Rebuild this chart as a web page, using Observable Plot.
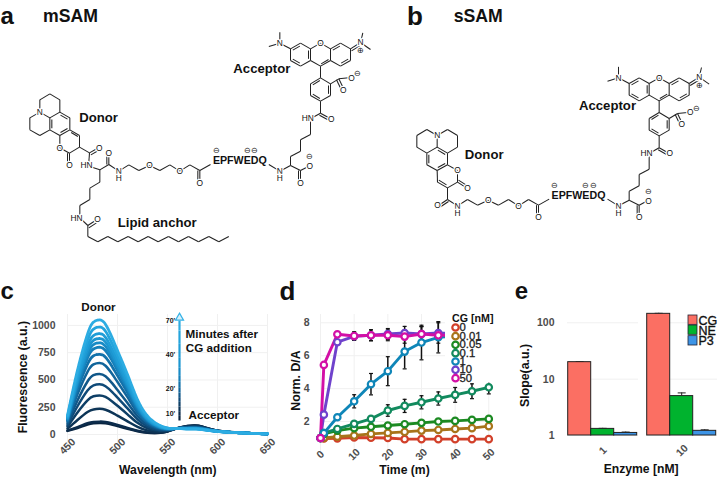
<!DOCTYPE html>
<html>
<head>
<meta charset="utf-8">
<script src="https://cdn.jsdelivr.net/npm/d3@7"></script>
<script src="https://cdn.jsdelivr.net/npm/@observablehq/plot@0.6"></script>
<style>
html,body{margin:0;padding:0;background:#fff}
#page{position:relative;width:724px;height:477px;overflow:hidden;font-family:"Liberation Sans",Arial,sans-serif}
#page svg{position:absolute;overflow:visible}
</style>
</head>
<body>
<div id="page"></div>
<script>
// ---------- panel c : emission spectra ----------
const wavelengths=[450,460,470,476,482,488,495,500,510,520,530,540,550,560,570,577,585,600,625,650];
const spec00=[33,60,92,102,105,102,90,78,52,30,16,14,28,58,78,82,72,35,15,5];
const spec01=[35,67,104,115,118,115,101,88,59,34,18,15,28,58,78,82,72,35,15,5];
const spec02=[53,133,206,230,235,227,199,173,121,70,37,25,32,58,74,78,68,34,15,5];
const spec03=[71,202,313,350,357,344,301,263,185,107,57,36,37,57,71,73,65,33,15,5];
const spec04=[86,259,403,451,460,443,387,338,239,139,74,44,40,57,67,70,61,32,15,5];
const spec05=[101,312,486,544,555,534,466,407,289,168,89,53,43,57,65,67,59,32,15,5];
const spec06=[116,368,574,642,655,630,550,481,342,199,106,61,47,56,62,63,56,31,14,5];
const spec07=[128,414,644,721,735,708,617,540,384,223,119,68,49,56,59,61,53,30,14,5];
const spec08=[137,450,701,784,800,769,671,587,418,243,129,74,52,56,57,58,51,30,14,5];
const spec09=[143,472,736,824,840,808,705,616,439,256,136,77,53,56,56,57,50,30,14,5];
const spec10=[149,495,771,863,880,847,738,645,460,268,142,80,54,56,55,56,49,29,14,5];
const spec11=[156,520,811,907,925,890,776,679,484,282,150,84,56,55,54,54,48,29,14,5];
const spec12=[165,553,863,966,985,947,825,722,516,300,159,89,58,55,52,52,46,28,14,5];
const spec13=[175,590,920,1030,1050,1010,880,770,550,320,170,95,60,55,50,50,44,28,14,5];
const spectra=[spec00,spec01,spec02,spec03,spec04,spec05,spec06,spec07,spec08,spec09,spec10,spec11,spec12,spec13];
const specColors=['#0a2540','#0c2c4c','#0d3557','#0e3f66','#0f4a78','#105789','#11659b','#1272ab','#157fb9','#188bc6','#1c96d0','#1f9dd7','#24a4dc','#2cace2'];
const wlTicks=[450,500,550,600,650];
const fluoTicks=[0,250,500,750,1000];

// ---------- panel d : time course ----------
const times=[0,1,5,10,15,20,25,30,35,40,45,50];
const cgLevels=["0","0.01","0.05","0.1","1","10","50"];
const cgColors=['#d2402a','#a8741a','#1c8a22','#128a5e','#0f86b8','#6f42cc','#d30fa6'];
const cg0   =[1,.97,.98,1.03,1.02,1,.93,.93,.93,.93,.93,.93];
const cg001 =[1,1,1.08,1.15,1.25,1.31,1.37,1.45,1.49,1.55,1.6,1.72];
const cg005 =[1,1.25,1.45,1.6,1.68,1.76,1.84,1.92,2,2.04,2.1,2.16];
const cg01  =[1,1.3,1.55,1.86,2.16,2.67,2.95,3.17,3.4,3.62,3.84,4.08];
const cg1   =[1,1.3,2.26,3.23,4.27,5.06,6.25,6.8,7.12,7.2];
const cg10  =[1,2.42,6.82,7.18,7.24,7.32,7.38,7.32,7.38,7.34];
const cg50  =[1,5.44,7.3,7.2,7.24,7.24,7.16,7.32,7.24,7.24];
const cgErr0  =[0,0,.03,.05,.05,.05,.05,.05,.05,.05,.05,.05];
const cgErr001=[0,0,.05,.08,.1,.12,.12,.14,.15,.15,.18,.18];
const cgErr005=[0,0,.06,.08,.1,.12,.12,.12,.12,.12,.12,.12];
const cgErr01 =[0,0,.08,.12,.15,.35,.4,.4,.4,.45,.45,.4];
const cgErr1  =[0,0,.1,.4,.65,.88,1.05,1.05,.95,0];
const cgErr10 =[0,0,.1,.25,.33,.33,.4,.45,.62,0];
const cgErr50 =[0,0,.1,.25,.33,.33,.4,.45,.3,0];
const cgSeries=[cg0,cg001,cg005,cg01,cg1,cg10,cg50];
const cgErrors=[cgErr0,cgErr001,cgErr005,cgErr01,cgErr1,cgErr10,cgErr50];
const timeTicks=[0,10,20,30,40,50];
const ratioTicks=[2,4,6,8];

// ---------- panel e : slopes ----------
const enzymes=["CG","NE","P3"];
const enzymeColors=['#fb6f63','#00b32e','#3d94e6'];
const doses=["1","10"];
const slope1=[20,1.31,1.11];
const slope10=[144,5,1.21];
const slopeErr1=[.4,.03,.04];
const slopeErr10=[3,.7,.05];
const slopeTicks=[1,10,100];

// ---------- panels a, b : structures, polylines read at 3x picture scale ----------
const zigzagTail=[262,675,262,708,292,724,322,708,352,724,383,708,413,724,443,708,473,724,504,708,534,724,564,708,594,724,625,708,655,724,685,708];
const sharedBonds=[
 [838,95,838,128],[805,138,838,128],[838,128,870,145],
 [870,145,900,128,930,145,930,180,900,197,870,180,870,145],
 [930,145,960,128,990,145,990,180,960,197,930,180],
 [990,145,1020,128,1050,145,1050,180,1020,197,990,180],
 [1050,145,1080,126],[1053,151,1078,136],[1087,97,1080,126],[1110,147,1080,126],
 [877,149,898,137],[924,150,924,175],[898,188,877,176],
 [1018,137,997,149],[1043,176,1022,188],[984,177,962,190],
 [960,197,960,232],
 [960,232,990,250,990,285,960,302,930,285,930,250,960,232],
 [984,255,984,280],[958,294,937,281],[937,253,958,240],
 [990,250,1015,235,1045,232],[1015,235,1028,262],[1008,238,1021,265],
 [960,302,960,338,935,352],[960,338,985,352],[957,344,982,358],
 [930,362,930,402,900,418,900,452,870,468,870,495],
 [870,495,900,510,925,497],[900,510,900,540],[894,510,894,540],
 [870,495,838,512,805,492],
 [630,492,598,510,568,493,538,512,508,493,478,510,447,495,415,510,385,493,355,512],
 [598,510,598,540],[592,510,592,540]
];
const sharedAtoms=[
 ["N",838,128],["O",960,128],["N",1080,126],["⊕",1080,150],["O",1028,268],["O",1053,232],["⊖",1072,218],
 ["O",992,355],["HN",922,354],["N",838,512],["H",838,533],["O",928,497],["⊖",928,468],["O",900,547],
 ["O",598,547],["O",538,512],["O",447,495],["N",355,512],["H",355,533],
 ["⊖",647,450],["⊖",740,450],["⊖",762,450]
];
const mSamBonds=[
 [355,512,325,492,298,508,258,495],[325,492,325,462],[319,492,319,462],
 [265,485,267,457,237,440],[267,457,290,444],[271,463,294,450],
 [237,440,237,405,208,388],[237,440,207,458,178,442,178,405],[207,458,207,488],[201,458,201,488],[212,396,232,408],
 [148,352,178,335,208,352,208,388,178,405,148,388,148,352],[180,344,201,356],[201,384,180,396],[154,383,154,357],
 [118,335,88,352,88,388,118,405,148,388],[118,335,118,298,148,280,178,298,178,335],[118,335,148,352],
 [298,508,298,545,268,563,268,597,238,615,238,652,262,675],[262,675,285,660],[265,682,288,667],
 zigzagTail
];
const mSamAtoms=[["O",325,458],["HN",258,495],["O",296,442],["O",207,493],["O",178,442],["N",118,335],["HN",228,652],["O",291,657]];
const sSamBonds=[
 [285,616,255,597,255,562],[255,597,228,615],[258,603,231,621],
 [255,562,225,545,224,510],[255,562,285,545,285,510,255,493],[285,545,312,562],[288,539,315,556],[229,539,252,553],
 [193,458,224,440,255,458,255,493,224,510,193,493,193,458],[199,463,199,488],[226,449,248,462],[226,501,248,489],
 [224,405,193,387,163,405,163,440,193,458],[224,405,255,387,285,405,285,440,255,458],[224,405,224,440]
];
const sSamAtoms=[["O",225,615],["O",285,510],["O",315,562],["N",224,405]];
const shiftA=[0,0], shiftB=[1016,104], shiftOwnB=[1086,0];

const labels=[
 ["a",20,48,72],["b",1086+157,48,78],["c",20,873,72],["d",861,873,78],["e",1563,873,72],
 ["mSAM",210,47,53],["sSAM",1086+347,47,53],
 ["Donor",294,353,39.5],["Acceptor",784,205,39.5],["Lipid anchor",470,667,39.5],
 ["EPFWEDQ",718,480,32],["EPFWEDQ",1086+648,584,32],
 ["Donor",1086+365,463,39.5],["Acceptor",1086+735,316,39.5],
 ["Donor",294,921,35],["Acceptor",640,1243,35],
 ["Minutes after",664,1000,35],["CG addition",655,1044,35],
 ["70'",510,960,21],["40'",510,1062,21],["20'",510,1165,21],["10'",510,1240,21],
 ["Wavelength (nm)",502,1410,36.5],["Time (m)",1212,1410,36.5],["Enzyme [nM]",1922,1407,36.5],
 ["CG [nM]",1417,954,32]
];
const yTitles=[["Fluorescence (a.u.)",69,1130,37],["Norm. D/A",888,1140,37],["Slope(a.u.)",1575,1125,37]];
const arrowStops=[1260,1246,1232,1218,1204,1190,1176,1160,1144,1124,1102,1070,1030,990,960];
const legendDotsY=[981,1007,1033,1058,1083,1108,1133];
const swatchTop=[945,975,1007];

// ---------- build rows ----------
const specRows=spectra.flatMap((v,i)=>v.map((y,j)=>({x:wavelengths[j],y,s:i})));
const cgRows=cgSeries.flatMap((v,i)=>v.map((y,j)=>({t:times[j],y,s:cgLevels[i],e:cgErrors[i][j]})));
const slopeRows=[...slope1.map((v,i)=>({dose:"1",enz:enzymes[i],v,e:slopeErr1[i]})),...slope10.map((v,i)=>({dose:"10",enz:enzymes[i],v,e:slopeErr10[i]}))];
const segs=(chains,[dx,dy])=>chains.flatMap(c=>{const out=[];for(let i=0;i+3<c.length;i+=2)out.push({x1:c[i]+dx,y1:c[i+1]+dy,x2:c[i+2]+dx,y2:c[i+3]+dy});return out;});
const atoms=(list,[dx,dy])=>list.map(([t,x,y])=>({t,x:x+dx,y:y+dy}));
const bonds=[...segs(sharedBonds,shiftA),...segs(mSamBonds,shiftA),...segs(sharedBonds,shiftB),...segs(sSamBonds,shiftOwnB)];
const atomRows=[...atoms(sharedAtoms,shiftA),...atoms(mSamAtoms,shiftA),...atoms(sharedAtoms,shiftB),...atoms(sSamAtoms,shiftOwnB)];

const page=document.getElementById("page");
const FONT='"Liberation Sans",Arial,sans-serif';
const TOP=295,H=182;
const place=(svg,left)=>{svg.style.left=left+"px";svg.style.top=TOP+"px";page.appendChild(svg);};
const GRID="#f0f0f0",TICK="#4d4d4d";
const tickText={fontWeight:"bold",fontSize:10.5,color:TICK,tickSize:0,label:null,tickFormat:d=>String(d)};
const capSymbol=w=>({draw(c){c.moveTo(-w,0);c.lineTo(w,0);}});

// panel c
place(Plot.plot({
 width:285,height:H,marginLeft:67,marginRight:18,marginTop:19,marginBottom:31,
 style:{background:"transparent",fontFamily:FONT},
 x:{domain:[450,650],range:[67,267]},
 y:{domain:[0,1100],range:[139,19]},
 color:{domain:d3.range(14),range:specColors},
 marks:[
  Plot.gridX(wlTicks,{stroke:GRID,strokeOpacity:1}),
  Plot.gridY(fluoTicks,{stroke:GRID,strokeOpacity:1}),
  Plot.axisX(wlTicks,{...tickText,anchor:"bottom",tickRotate:-45,textAnchor:"middle",lineAnchor:"middle",tickPadding:0}),
  Plot.axisY(fluoTicks,{...tickText,anchor:"left",tickPadding:12}),
  Plot.line(specRows.filter(d=>d.s<7),{x:"x",y:"y",z:"s",stroke:"s",strokeWidth:2.5,curve:"natural"}),
  Plot.line(specRows.filter(d=>d.s>=7),{x:"x",y:"y",z:"s",stroke:"s",strokeWidth:2.8,strokeDasharray:"2.6 0.6",curve:"natural"})
 ]
}),0);

// panel d
place(Plot.plot({
 width:230,height:H,marginLeft:50,marginRight:12,marginTop:19,marginBottom:23,
 style:{background:"transparent",fontFamily:FONT},
 x:{domain:[0,50],range:[50,218.3]},
 y:{domain:[.8,8.4],range:[145.8,20.7]},
 color:{domain:cgLevels,range:cgColors},
 marks:[
  Plot.gridX(timeTicks,{stroke:GRID,strokeOpacity:1}),
  Plot.gridY(ratioTicks,{stroke:GRID,strokeOpacity:1}),
  Plot.axisX(timeTicks,{...tickText,anchor:"bottom",tickRotate:-45,textAnchor:"middle",lineAnchor:"middle",tickPadding:0}),
  Plot.axisY(ratioTicks,{...tickText,anchor:"left",tickPadding:11}),
  Plot.ruleX(cgRows.filter(d=>d.e>0),{x:"t",y1:d=>d.y-d.e,y2:d=>d.y+d.e,stroke:"#111",strokeWidth:1.5}),
  Plot.dot(cgRows.filter(d=>d.e>0),{x:"t",y:d=>d.y-d.e,symbol:capSymbol(2),stroke:"#111",strokeWidth:1.2,r:2}),
  Plot.dot(cgRows.filter(d=>d.e>0),{x:"t",y:d=>d.y+d.e,symbol:capSymbol(2),stroke:"#111",strokeWidth:1.2,r:2}),
  Plot.line(cgRows,{x:"t",y:"y",z:"s",stroke:"s",strokeWidth:2.9}),
  Plot.dot(cgRows,{x:"t",y:"y",stroke:"s",fill:"white",r:3.2,strokeWidth:2.2})
 ]
}),270);

// panel e
place(Plot.plot({
 width:234,height:H,marginLeft:76.3,marginRight:6.3,marginTop:15,marginBottom:27,
 style:{background:"transparent",fontFamily:FONT},
 fx:{domain:doses,paddingInner:.097,paddingOuter:0,label:null,axis:null},
 x:{domain:enzymes,padding:0,axis:null},
 y:{type:"log",domain:[1,165],range:[140,15]},
 color:{domain:enzymes,range:enzymeColors},
 marks:[
  Plot.gridY(slopeTicks,{stroke:GRID,strokeOpacity:1}),
  Plot.axisFx({...tickText,anchor:"bottom",tickRotate:-45,textAnchor:"middle",lineAnchor:"middle",tickPadding:0}),
  Plot.axisY(slopeTicks,{...tickText,anchor:"left",tickPadding:13}),
  Plot.ruleX(slopeRows,{fx:"dose",x:"enz",y1:"v",y2:d=>d.v+d.e,stroke:"#222",strokeWidth:1}),
  Plot.dot(slopeRows,{fx:"dose",x:"enz",y:d=>d.v+d.e,symbol:capSymbol(4),stroke:"#222",strokeWidth:1,r:2}),
  Plot.barY(slopeRows,{fx:"dose",x:"enz",y1:()=>1,y2:"v",fill:"enz",stroke:"#222",strokeWidth:1})
 ]
}),490);

// diagram layer : structures, letters, titles, legends (coordinates at 3x picture scale)
const overlay=Plot.plot({
 width:724,height:477,margin:0,axis:null,
 style:{background:"transparent",fontFamily:FONT},
 x:{domain:[0,2172],range:[0,724]},
 y:{domain:[0,1431],range:[0,477]},
 marks:[
  Plot.link(bonds,{x1:"x1",y1:"y1",x2:"x2",y2:"y2",stroke:"#222",strokeWidth:1.05}),
  Plot.text(atomRows,{x:"x",y:"y",text:"t",fontSize:8.4,fill:"#111",stroke:"white",strokeWidth:2.5,lineAnchor:"middle"}),
  // legend of d: white patch hiding the lines under it
  Plot.rect([0],{x1:()=>1335,x2:()=>1510,y1:()=>935,y2:()=>1148,fill:"white"}),
  Plot.dot(cgLevels,{x:()=>1365,y:(d,i)=>legendDotsY[i],stroke:(d,i)=>cgColors[i],fill:"white",r:3.2,strokeWidth:2.2}),
  Plot.text(cgLevels,{x:()=>1377,y:(d,i)=>legendDotsY[i],text:d=>d,textAnchor:"start",fontSize:11.3,fill:"#222",stroke:"#222",strokeWidth:.3,lineAnchor:"middle"}),
  // legend of e
  Plot.rect(enzymes,{x1:()=>2064,x2:()=>2091,y1:(d,i)=>swatchTop[i],y2:(d,i)=>swatchTop[i]+28,fill:(d,i)=>enzymeColors[i],stroke:"#223",strokeWidth:.8}),
  Plot.text(enzymes,{x:()=>2094,y:(d,i)=>swatchTop[i]+15,text:d=>d,textAnchor:"start",fontSize:12.5,fill:"#111",stroke:"#111",strokeWidth:.35,lineAnchor:"middle"}),
  // time arrow of c
  Plot.link(arrowStops.slice(0,-1),{x1:()=>537,x2:()=>537,y1:d=>d,y2:(d,i)=>arrowStops[i+1],stroke:(d,i)=>specColors[Math.min(i,13)],strokeWidth:2.2}),
  Plot.dot([0],{x:()=>537,y:()=>952,symbol:"triangle",r:3,fill:"#d8f0fb",stroke:"#35b2e6",strokeWidth:1.2}),
  // text
  Plot.text(labels,{x:d=>d[1],y:d=>d[2],text:d=>d[0],fontSize:d=>d[3]/3,fontWeight:"bold",fill:"#111",lineAnchor:"middle"}),
  Plot.text(yTitles,{x:d=>d[1],y:d=>d[2],text:d=>d[0],fontSize:d=>d[3]/3,rotate:-90,fontWeight:"bold",fill:"#111",lineAnchor:"middle"})
 ]
});
overlay.style.left="0px";overlay.style.top="0px";overlay.style.pointerEvents="none";
page.appendChild(overlay);
</script>
</body>
</html>
